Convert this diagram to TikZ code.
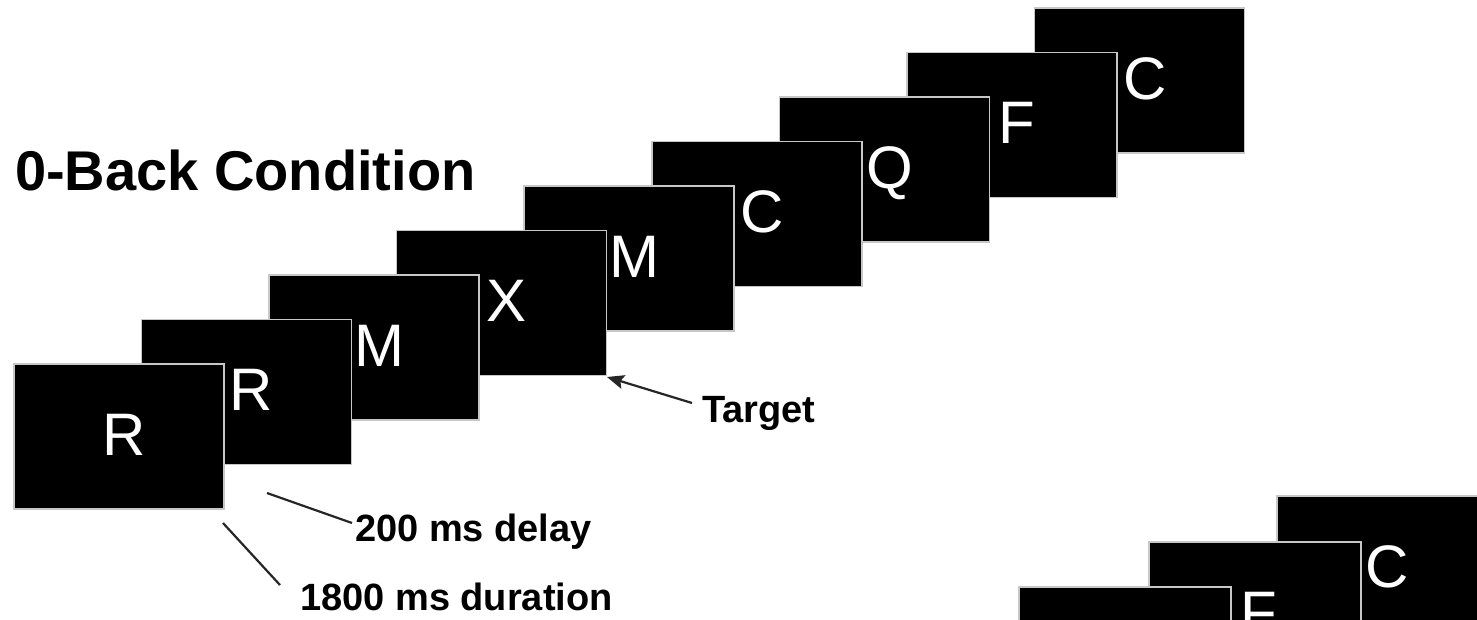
\documentclass[tikz,border=0pt]{standalone}
\usepackage{fontspec}
\setmainfont{Liberation Sans}
\usetikzlibrary{arrows.meta}
\begin{document}
\begin{tikzpicture}[x=1pt,y=-1pt,
  screen/.style={draw=black!22, line width=1.6pt, fill=black, minimum width=210pt, minimum height=145pt, inner sep=0pt, anchor=north west},
  letter/.style={text=white, font=\fontsize{60}{60}\selectfont, inner sep=0pt, anchor=base},
  lbl/.style={font=\bfseries\fontsize{38}{38}\selectfont, inner sep=0pt, anchor=base west},
  titlestyle/.style={font=\bfseries\fontsize{56}{56}\selectfont, inner sep=0pt, anchor=base west},
  lead/.style={draw=black!85, line width=2.2pt}]
\useasboundingbox (0,0) rectangle (1477,619);
\begin{scope}
\clip (0,0) rectangle (1477,619);
% main staircase, drawn back to front
\foreach \i/\L in {8/C,7/F,6/Q,5/C,4/M,3/X,2/M,1/R,0/R} {
  \node[screen] (s\i) at ({13+127.6*\i},{363-44.5*\i}) {};
  \node[letter] (l\i) at ([shift={(111,92)}]s\i.north west) {\L};
}
% second staircase (bottom right, cut off)
\node[screen, minimum width=212pt] (t2) at (1276,495) {};
\node[letter] (m2) at ([shift={(111,92)}]t2.north west) {C};
\node[screen, minimum width=212pt] (t1) at (1148,541) {};
\node[letter] (m1) at ([shift={(111,92)}]t1.north west) {F};
\node[screen, minimum width=212pt] (t0) at (1018,586) {};
\end{scope}
% labels
\node[titlestyle] (title) at (15,190) {0-Back Condition};
\node[lbl] (target) at (702,422) {Target};
\node[lbl] (delay) at (355,541) {200 ms delay};
\node[lbl] (dur) at (300,610) {1800 ms duration};
% connectors
\coordinate (tgtA) at (692,403);
\coordinate (tgtB) at (607,377);
\coordinate (delA) at (267,493);
\coordinate (delB) at (352,523);
\coordinate (durA) at (223,523);
\coordinate (durB) at (280,585);
\draw[lead,-{Stealth[length=17pt,width=14pt,inset=3pt]}] (tgtA) -- (tgtB);
\draw[lead] (delA) -- (delB);
\draw[lead] (durA) -- (durB);
\end{tikzpicture}
\end{document}
